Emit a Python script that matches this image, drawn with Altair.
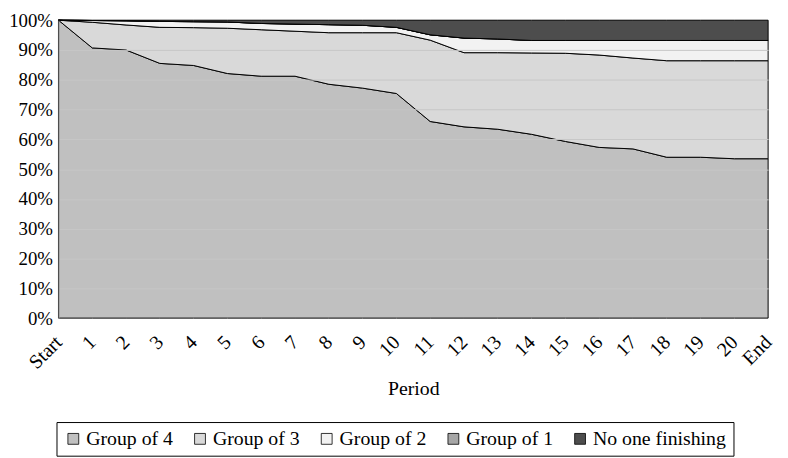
import altair as alt
import pandas as pd

periods = ["Start"] + [str(i) for i in range(1, 21)] + ["End"]
groups = ["Group of 4", "Group of 3", "Group of 2", "Group of 1", "No one finishing"]
colors = ["#c0c0c0", "#d9d9d9", "#f2f2f2", "#a6a6a6", "#4d4d4d"]

group4 = [100, 90.7, 90.0, 85.5, 84.8, 82.1, 81.2, 81.2, 78.5, 77.2, 75.4,
          66.0, 64.2, 63.4, 61.7, 59.3, 57.3, 56.8, 54.0, 54.0, 53.5, 53.5]
group3 = [0, 8.6, 8.4, 12.1, 12.7, 15.2, 15.6, 15.1, 17.3, 18.6, 20.4,
          27.3, 24.9, 25.7, 27.3, 29.6, 31.0, 30.5, 32.4, 32.4, 32.9, 32.9]
group2 = [0, 0.6, 1.4, 2.0, 2.0, 2.1, 2.1, 2.4, 2.7, 2.5, 1.8,
          1.8, 4.9, 4.6, 4.2, 4.3, 4.9, 5.9, 6.8, 6.8, 6.8, 6.8]
group1 = [0] * 22
no_one = [0, 0.1, 0.2, 0.4, 0.5, 0.6, 1.1, 1.3, 1.5, 1.7, 2.4,
          4.9, 6.0, 6.3, 6.8, 6.8, 6.8, 6.8, 6.8, 6.8, 6.8, 6.8]

y_ticks = [0, 10, 20, 30, 40, 50, 60, 70, 80, 90, 100]

series = [group4, group3, group2, group1, no_one]
rows = []
for gi, (g, vals) in enumerate(zip(groups, series)):
    for p, v in zip(periods, vals):
        rows.append({"period": p, "group": g, "value": v, "order": gi})
df = pd.DataFrame(rows)

FONT = "Liberation Serif, Times New Roman, serif"

x_enc = alt.X(
    "period:O", sort=periods,
    scale=alt.Scale(type="point", padding=0),
    axis=alt.Axis(
        title="Period", labelAngle=-45, labelAlign="right", labelBaseline="middle",
        labelPadding=21, ticks=False, domain=False, grid=False,
        titlePadding=6,
    ),
)

chart = alt.Chart(df).mark_area(stroke="black", strokeWidth=1, opacity=1).encode(
    x=x_enc,
    y=alt.Y(
        "value:Q", stack="zero",
        scale=alt.Scale(domain=[0, 100], nice=False),
        axis=alt.Axis(
            title=None, values=y_ticks, labelExpr="datum.value + '%'",
            labelOverlap=False, labelPadding=6, labelFontSize=19,
            ticks=False, grid=True, gridColor="#c6c6c6",
            gridOpacity=alt.condition("datum.value == 0 || datum.value == 100",
                                      alt.value(0), alt.value(1)),
            domain=True, domainColor="#8c8c8c", zindex=1,
        ),
    ),
    color=alt.Color(
        "group:N", sort=groups,
        scale=alt.Scale(domain=groups, range=colors),
        legend=alt.Legend(
            title=None, orient="none", legendX=-2, legendY=406,
            direction="horizontal", columns=5, symbolType="square",
            symbolSize=120, symbolStrokeColor="black", symbolStrokeWidth=0.8,
            symbolOpacity=1, labelOffset=3, columnPadding=17, padding=7,
            strokeColor="black",
        ),
    ),
    order=alt.Order("order:Q", sort="ascending"),
).properties(
    width=717, height=301,
    padding={"left": 51, "top": 10, "right": 12, "bottom": 139},
    autosize=alt.AutoSizeParams(type="none"),
).configure(font=FONT).configure_view(stroke=None).configure_axis(
    labelFont=FONT, labelFontSize=20, labelColor="black",
    titleFont=FONT, titleFontSize=20, titleFontWeight="normal", titleColor="black",
).configure_legend(
    labelFont=FONT, labelFontSize=20, labelColor="black", labelLimit=0,
)

chart.save("out.html", embed_options={"renderer": "svg", "actions": False})
